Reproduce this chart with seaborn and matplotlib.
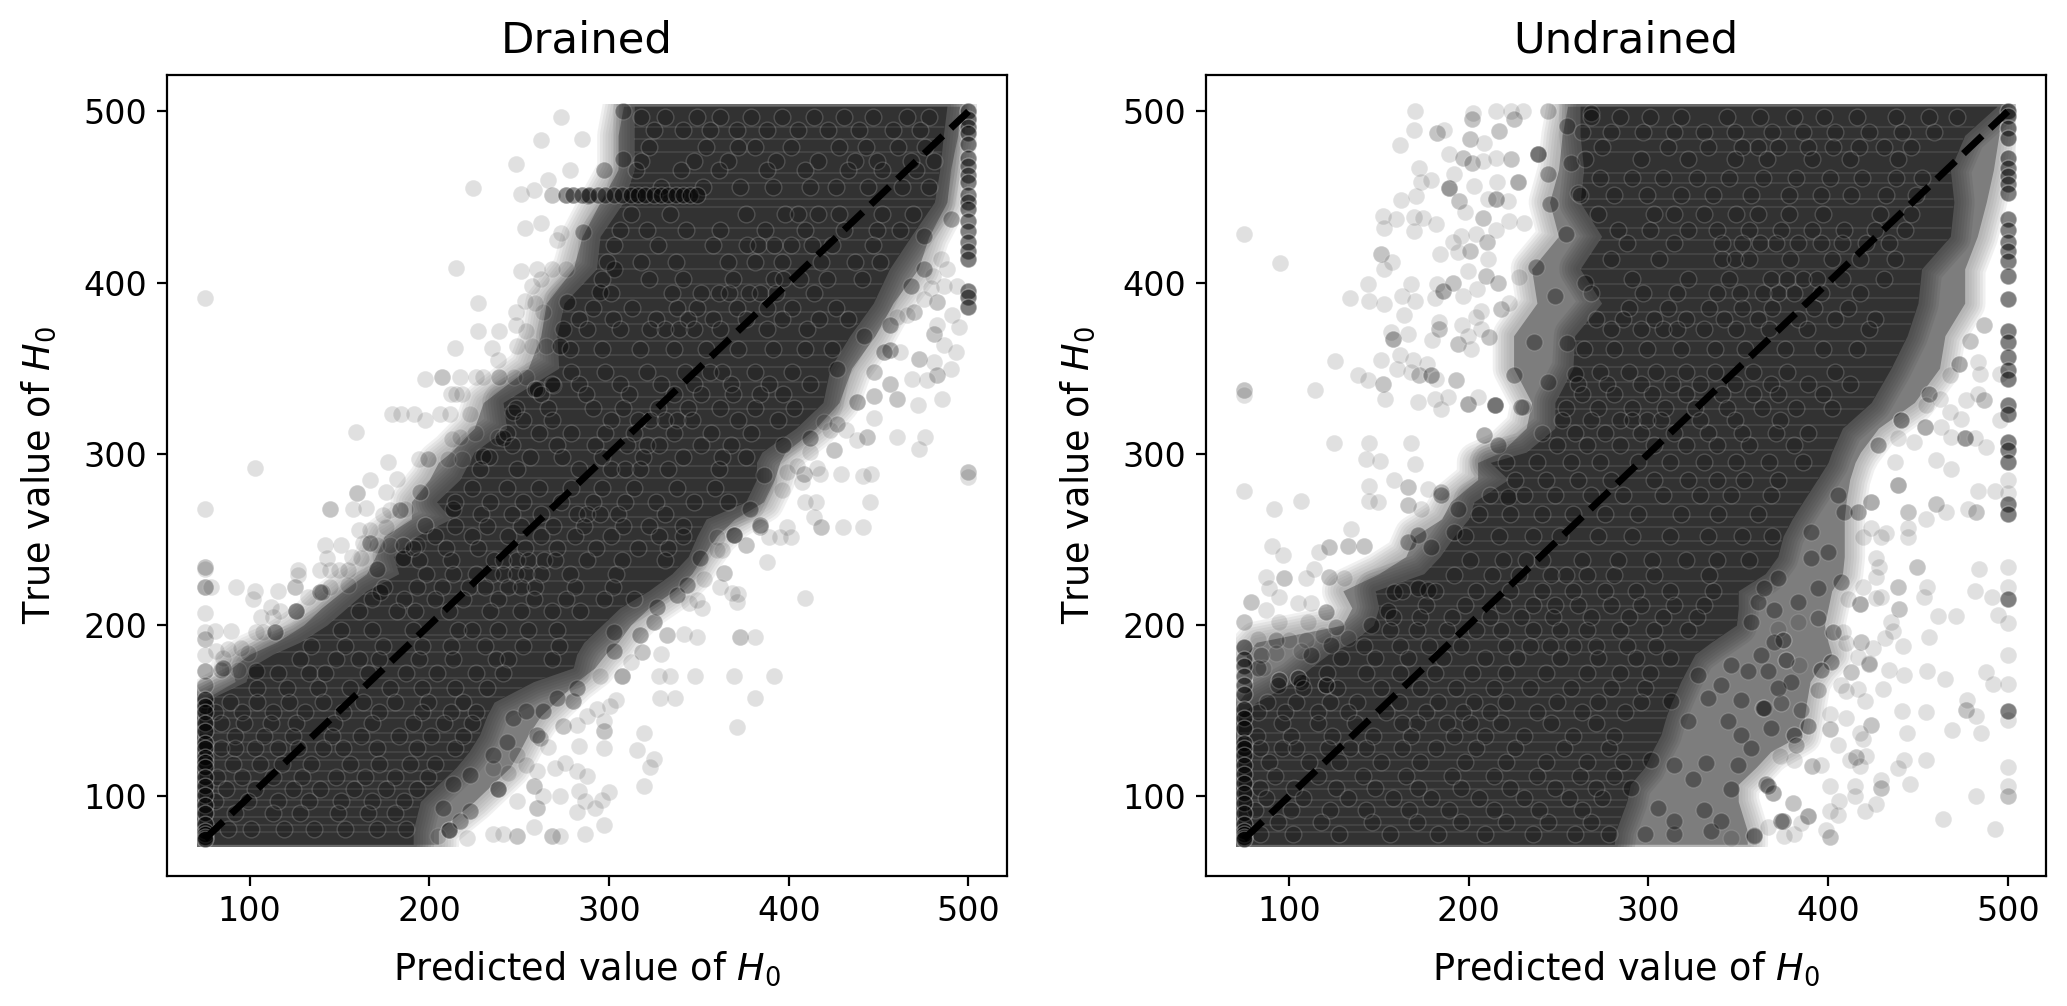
"""
Predicted vs true H0 for drained and undrained cases.
Values read off the published figure: sparse points one by one, the saturated
cloud as an envelope per H0 level with a sample of its visible points on top.
"""

import pandas as pd
import matplotlib
matplotlib.use("Agg")
import matplotlib.pyplot as plt
from matplotlib.patches import Rectangle
import seaborn as sns

# === cloud envelopes ===
levels = [72, 80, 97, 107, 117, 126, 136, 147, 155, 167, 175, 183, 190, 200, 210, 220, 230, 240,
          252, 262, 272, 285, 295, 301, 315, 330, 350, 369, 388, 408, 427, 447, 466, 486, 503]

drained_core_left = [72, 72, 72, 72, 72, 72, 72, 72, 74, 98, 100, 113, 128, 143, 154, 165, 183, 180,
                     193, 212, 204, 217, 222, 225, 243, 241, 272, 271, 275, 293, 295, 308, 314, 314, 314]
drained_core_right = [191, 191, 195, 205, 215, 222, 228, 232, 236, 258, 280, 282, 286, 296, 306, 322, 335, 344,
                      349, 354, 376, 382, 382, 385, 404, 419, 423, 434, 447, 456, 468, 481, 484, 486, 488]
drained_mid_left = [72, 72, 72, 72, 72, 72, 72, 72, 72, 92, 90, 100, 115, 130, 140, 152, 165, 170,
                    175, 190, 190, 200, 205, 212, 225, 230, 255, 262, 265, 280, 285, 295, 305, 305, 308]
drained_mid_right = [205, 205, 225, 235, 245, 250, 255, 262, 270, 282, 292, 298, 305, 312, 322, 336, 346, 352,
                     360, 370, 386, 392, 395, 398, 415, 428, 435, 448, 458, 472, 478, 488, 490, 494, 495]

undrained_core_left = [72, 72, 72, 72, 72, 72, 72, 72, 82, 103, 112, 122, 135, 147, 150, 148, 175, 184,
                       192, 200, 203, 222, 212, 232, 248, 248, 258, 259, 274, 262, 274, 262, 264, 262, 262]
undrained_core_right = [281, 282, 288, 290, 298, 302, 307, 310, 313, 318, 322, 326, 335, 349, 350, 350, 365, 372,
                        375, 380, 386, 394, 400, 402, 408, 424, 435, 444, 450, 452, 468, 470, 468, 476, 494]
undrained_mid_left = [72, 72, 72, 72, 72, 72, 72, 72, 72, 80, 78, 76, 82, 130, 135, 130, 150, 165,
                      170, 185, 190, 205, 205, 218, 232, 235, 225, 225, 238, 235, 250, 245, 250, 252, 255]
undrained_mid_right = [355, 355, 350, 350, 360, 368, 385, 387, 388, 390, 395, 402, 400, 398, 400, 402, 408, 409,
                       409, 409, 410, 412, 415, 418, 428, 448, 462, 465, 476, 476, 483, 488, 492, 495, 496]

# H0 levels that show as thin light streaks through the cloud
strata_levels = [79, 83, 88, 94, 98, 104, 109, 115, 121, 126, 132, 137, 146, 150, 158, 163, 169, 176, 184, 191, 194,
                 203, 211, 218, 226, 234, 243, 249, 257, 263, 271, 278, 286, 293, 302, 309, 317, 326, 333, 342, 351,
                 358, 366, 376, 383, 391, 399, 408, 417, 425, 432, 444, 449, 458, 464, 476, 484, 491]

# === sparse points (predicted, true) ===
drained_points = [
    (75, 391), (273, 497), (262, 483), (248, 469), (224.5, 455), (251, 452), (258, 454), (266, 460),
    (268, 451), (268, 451), (278, 466), (285, 484), (253, 432), (262, 435), (271, 425), (273, 429),
    (215, 408.5), (251, 407), (260, 408), (268, 408), (276, 408), (262, 402), (257, 398), (227, 388),
    (253, 389.5), (248, 383), (263, 383), (259, 388), (227, 372), (239, 372), (248, 375), (254, 372),
    (214, 362), (235, 362), (248.6, 362.7), (257, 362.7), (265, 363), (238, 355), (197.5, 344), (207, 345),
    (207, 345), (217, 345), (226, 345), (230, 345), (239, 345), (239, 345), (247, 345), (254, 345),
    (259, 338), (259, 338), (212, 335), (218, 335), (215, 335), (179, 323.5), (184.5, 323.5), (191.5, 323.5),
    (197.5, 319.5), (206, 323.5), (211.5, 323.5), (222.6, 323.5), (159, 313), (103, 292), (177, 295), (194, 297),
    (199.4, 297), (199.4, 297), (210.5, 297), (218, 297), (212.4, 308.5), (217, 310), (225.4, 312), (238, 310),
    (75, 267.7), (144.6, 268), (144.6, 268), (157.6, 268), (165, 268.5), (167, 285), (159.5, 277), (159.5, 277),
    (176, 278), (182, 285.5), (194.7, 278), (194.7, 278), (178, 267), (186.4, 267.7), (174, 264), (161, 255.5),
    (167, 255.5), (176, 257), (197.5, 258.4), (197.5, 258.4), (142, 246.7), (151, 247), (163, 247.7), (170.6, 247),
    (178, 247), (185.5, 247), (185.5, 247), (193, 247), (143.3, 239.3), (156.7, 240), (162, 239), (127, 232),
    (139.4, 232), (144.6, 232), (150, 232), (155, 232), (75, 234), (75, 234), (75, 233), (75, 222), (75, 222),
    (75, 222), (78.7, 222), (92.6, 222), (103, 220), (102, 215.3), (116, 220), (125, 222), (125, 222), (127, 229),
    (132.5, 216.6), (140, 219.5), (140, 219.5), (144.6, 222.4), (154.8, 223.4), (75, 207), (75, 196), (75, 192),
    (75, 192), (80.5, 196.6), (89.5, 196.6), (103.8, 196), (107.5, 196), (113, 205), (114, 196), (126, 208),
    (126, 208), (116.8, 208), (112, 210.8), (81.5, 185), (88, 186), (95.4, 186.5), (99, 183.6), (106.5, 205),
    (75, 182.6), (75, 173), (75, 173), (75, 173), (75, 165), (75, 165), (84, 174), (84, 174), (93.5, 174), (85, 180.7),
    (283.5, 129.2), (270, 116.6), (275.5, 119.5), (282, 114.6), (287.6, 111.7), (272.7, 100), (283, 103), (286.7, 97),
    (282, 91), (268, 76.7), (268, 76.7), (272.7, 76.7), (286.7, 78), (258, 82), (248.6, 76.7), (248.6, 76.7),
    (235.6, 77.7), (241, 77.7), (220.7, 75.8), (211, 80.6), (211, 80.6), (211, 80.6), (205, 76.7), (260, 93.3),
    (260, 93.3), (258, 106), (258, 106), (263.5, 100), (248.6, 97), (238.4, 104), (238.4, 104), (261.6, 134),
    (261.6, 134), (266.2, 129), (274.6, 140.8), (274.6, 140.8), (282, 141.8), (287.6, 146.7), (260, 114.6),
    (254, 118.5), (244, 113.7), (248.6, 124.3), (235.6, 116.6),
    (409, 216), (388, 236.6), (364, 230.6), (364, 230.6), (361.5, 222.4), (371, 213.7), (372, 218), (368.4, 219),
    (352.6, 226.7), (351.7, 209.8), (344.3, 212.7), (349, 214.7), (341.5, 195), (349, 193.3), (373, 193.3), (373, 193.3),
    (381, 193.3), (332, 194.3), (332, 194.3), (329, 183), (318.3, 184), (318.3, 184), (312, 178.3), (328, 170),
    (333.7, 170), (348, 170), (369.7, 170), (391.6, 170), (307, 170), (307, 170), (307, 170), (295, 170), (328.5, 157.4),
    (336.5, 157.4), (381, 157.4), (304, 156.4), (300.6, 153), (293.2, 151), (371.2, 140.3), (319.6, 137), (297, 138),
    (297, 138), (297, 143.8), (315.5, 127), (297, 128.2), (325, 122), (323, 117), (319.6, 106.3), (299.7, 102.6),
    (296, 98), (292.3, 93), (297.3, 83), (445, 272), (441.4, 287), (446, 288.5), (415, 271.6), (409.3, 272), (414, 263),
    (418, 257.4), (418, 257.4), (430, 257.4), (441.4, 257.4), (399, 257.4), (401, 251.6), (395, 251.6), (389, 251.6),
    (384, 257.4), (384, 257.4), (376.4, 246.7), (376.4, 246.7), (369.7, 252.5), (369.7, 252.5), (369.7, 252.5),
    (360, 251.6), (363, 243.8), (360, 243.8), (399, 289.5), (408.4, 288.5), (408.4, 288.5), (417.6, 288.5), (428.8, 288.5),
    (396.3, 278.8), (407.4, 283.6), (500, 286.5), (500, 289.5), (500, 289.5),
    (480, 404), (484.5, 413.8), (488, 408), (493.8, 398), (486.3, 398), (479, 397), (482.6, 388.5), (482.6, 388.5),
    (475.2, 390.5), (469.6, 382.7), (469.6, 382.7), (491, 380.8), (494.7, 374.3), (480.8, 370), (480.8, 370), (482.6, 375),
    (466, 380.8), (460.4, 379.8), (456.6, 360.4), (456.6, 360.4), (456.6, 360.4), (462, 359.4), (472.4, 355.5),
    (472.4, 355.5), (486.3, 363.3), (492.8, 359.4), (480.8, 353.6), (490, 349.7), (482.6, 345.8), (482.6, 345.8),
    (477, 342.9), (468.7, 343.9), (456.6, 341), (456.6, 341), (460.4, 332.2), (460.4, 332.2), (447.3, 334), (447.3, 334),
    (447.3, 347.7), (447.3, 347.7), (472, 328.7), (485.4, 331.8), (447.3, 321), (443.6, 310), (443.6, 310), (460.4, 310),
    (475.8, 310), (472.4, 303), (438, 308), (431.6, 313.7), (423, 313.7), (427, 317.6), (427, 317.6), (419.5, 318.6),
    (425, 302), (425, 302), (412, 301), (404.6, 293), (415.8, 292),
]

undrained_points = [
    (75, 428.3), (95, 411.4), (75, 337), (75, 337), (75, 334.5), (114.5, 337.4), (125.7, 354), (124.8, 306.4),
    (144.4, 306.4), (143, 297), (150.7, 295.7), (168, 306.4), (170, 294.3), (138.7, 345.8), (144.2, 342.9),
    (152.2, 341), (152.2, 341), (153.5, 332), (151, 355), (160, 349.7), (162, 358), (169, 354.9), (168, 347.7),
    (172.6, 345.8), (172.6, 345.8), (177, 352.6), (179, 345.8), (179, 345.8), (179, 345.8), (182, 344), (193, 342.9),
    (193, 342.9), (172, 330), (181, 332), (188.4, 333), (184.7, 326.4), (199.5, 329.3), (199.5, 329.3), (199.5, 329.3),
    (205, 333), (214.4, 328.3), (214.4, 328.3), (214.4, 328.3), (230, 327.3), (230, 327.3),
    (134, 391), (144.2, 399.2), (144.8, 389), (153, 387.5), (163, 392.4), (168, 399.2), (170.4, 389.5), (164.3, 381),
    (181.5, 391), (182.5, 399), (186, 395), (186, 395), (186, 395), (191.5, 400), (191.5, 400), (196.7, 392.4),
    (204.7, 396), (156.8, 371), (157.8, 366.8), (157.8, 366.8), (157.8, 366.8), (166, 370), (179.5, 366.6), (183.4, 373),
    (183.4, 373), (183.4, 376.9), (196.4, 375.5), (194, 364.2), (194, 364.2), (201.4, 361.3), (199.5, 369), (206.6, 383.7),
    (204, 379.8), (206.9, 373), (211.6, 368), (211.6, 368), (218, 384.6), (218, 384.6), (222.7, 388),
    (162.4, 448.4), (170.8, 450.7), (172.6, 467), (173.6, 458.5), (179, 459.8), (189.3, 455.5), (189.3, 455.5),
    (189.3, 455.5), (189.3, 455.5), (194.9, 447.8), (194.9, 447.8), (203.2, 456.5), (197.7, 441), (191.7, 463.3),
    (162, 480.4), (169.5, 489), (170.2, 500), (182.5, 487.6), (182.5, 487.6), (186.5, 489), (189, 475), (196.7, 473),
    (196.7, 473), (202, 470), (202, 470), (207.9, 471), (202.3, 499), (201.8, 495.4), (201.8, 495.4), (201, 484), (201, 484),
    (208.8, 481.8), (215.3, 500), (223.6, 500), (230, 500), (244.4, 500), (244.4, 500), (225.5, 495.4), (225.5, 495.4),
    (217, 488.6), (217, 488.6), (215, 473), (223.6, 472), (223.6, 472), (238.5, 475), (238.5, 475), (238.5, 475),
    (152.6, 439), (159.3, 437), (153, 432), (169.8, 438.4), (174.5, 438), (181.9, 434), (169.8, 430.3), (196, 427.4),
    (204, 428.3), (191.5, 423.5), (210.3, 424), (210.3, 424), (183.8, 417), (194, 418), (200.5, 418.6), (200.5, 418.6),
    (210.7, 413.8), (151.3, 417), (151.3, 417), (157.2, 411.8), (152.8, 408), (199.5, 407), (209.7, 404), (209.7, 404),
    (216.2, 400), (216.2, 400), (228, 403), (208, 438), (208, 438), (215.3, 448.7), (215.3, 448.7), (215.3, 448.7),
    (222.7, 436), (231, 435), (215.3, 431), (221.8, 447.8), (227.4, 458.5), (227.4, 458.5), (227.4, 458.5), (216, 458.5),
    (210.6, 448.7),
    (75, 278.4), (91.9, 267.7), (106.8, 272.6), (144.4, 281.3), (144.4, 272.6), (149.4, 272), (90.6, 246.3), (96.6, 241),
    (117, 242.8), (122.5, 245.7), (122.5, 245.7), (132.7, 246.3), (132.7, 246.3), (134.6, 256), (142, 246.3), (142, 246.3),
    (114, 233), (87.3, 228.3), (97.5, 227.3), (97.5, 227.3), (109.5, 227.7), (122.5, 228.3), (122.5, 228.3), (130.9, 227.3),
    (78.9, 213.7), (78.9, 213.7), (89.1, 221.5), (94.7, 216.6), (87.3, 208.8), (104.9, 212.7), (112.3, 212.7), (120.7, 207.9),
    (120.7, 207.9), (120.7, 207.9), (94.7, 202), (110.5, 201.6), (126.2, 199), (126.2, 199), (75, 202), (75, 202), (82.6, 192),
    (92.8, 191.4), (92.8, 191.4), (100.3, 191.4), (109.5, 191.4), (118.8, 194.3), (132.7, 192.3), (84.5, 182.6), (84.5, 182.6),
    (92.8, 183.6), (106.8, 184.6), (85.4, 174.8), (94.7, 168), (94.7, 168), (94.7, 168), (104.9, 169), (104.9, 169), (104.9, 169),
    (120.7, 165), (120.7, 165), (120.7, 165), (158.7, 284.6), (166, 280.7), (166, 280.7), (166, 270), (166, 270), (173.6, 268),
    (177.3, 279.7), (184.7, 277.8), (184.7, 277.8),
    (487, 375), (487, 375), (478.7, 366), (478.7, 366), (473, 352.6), (473, 352.6), (473, 352.6), (483.4, 353.6), (484.3, 346.8),
    (495.4, 346.8), (467.6, 345.8), (487, 331.2), (487, 331.2), (476.9, 331.2), (474, 320.5), (483.4, 335), (467.6, 324.4),
    (463, 315.7), (476, 309), (476, 309), (476, 309), (476, 309), (488, 304), (495.4, 319.6), (481.5, 309), (468.5, 310),
    (456.4, 335), (456.4, 335), (456.4, 335), (462, 332), (454.6, 328.3), (453.7, 315.7), (453.7, 315.7), (453.7, 315.7),
    (448, 307), (440.7, 319.6), (440.7, 319.6), (440.7, 319.6), (440.7, 319.6), (438.8, 309), (427.7, 305), (427.7, 305),
    (427.7, 305), (460, 296.3), (468.5, 291.4), (437, 295),
    (492.6, 81), (464.2, 87), (482.4, 100), (454.6, 121.4), (442.5, 121.4), (438.8, 116.6), (445.3, 107.3), (454.6, 149.2),
    (441, 150), (444, 137), (468.9, 138.5), (485.2, 137), (476.9, 150.6), (476.9, 150.6), (482.4, 146.7), (477.4, 156),
    (488, 172.5), (491.7, 165.5), (464.8, 168.6), (455.1, 172.9), (442.5, 171), (433.8, 173.9), (455.9, 193.3), (461, 205.3),
    (470.9, 205.3), (494.5, 206), (441.6, 188), (453.3, 216.2), (455.1, 222), (481.5, 220), (491.1, 216.2), (483.7, 232.5),
    (449.4, 234), (449.4, 234), (439.4, 209.4), (439.4, 209.4), (435.1, 201.6), (436, 196.8), (431.4, 192.3), (425, 186.5),
    (423, 177.8), (430.5, 162.8), (420.3, 155.4), (423.6, 141.8), (423.6, 141.8), (410, 145.7), (400.8, 148), (400.8, 139.5),
    (400.8, 139.5), (405.4, 129.8), (419.7, 133.7), (417.5, 137), (421.2, 123.4), (415.6, 122.8), (415.6, 122.8), (412, 121.4),
    (417.5, 117.5), (396, 118.5), (391.1, 117.5), (391.1, 117.5), (381.3, 121.4), (429.5, 109.8), (429.5, 105), (429.5, 105),
    (414.7, 105.9), (414.7, 100), (401.3, 106), (406, 97), (426.8, 95.6), (420.3, 91.3), (405.4, 89), (400.8, 91.3),
    (388.7, 88.4), (388.7, 88.4), (388.7, 88.4), (399, 80.6), (401.3, 76.4), (401.3, 76.4), (381.3, 77.7), (374.8, 85.5),
    (374.8, 85.5), (374.8, 85.5), (385, 84.5), (366.5, 82), (359, 77.3), (359, 77.3), (375.7, 76.7), (346, 75.8),
    (477.8, 268), (482.4, 266), (482.4, 266), (454.6, 262), (465.7, 266), (460.2, 271), (460.2, 271), (483.4, 278.2),
    (492.6, 278.2), (444.4, 251.6), (444.4, 266), (444.4, 266), (444.4, 256.8), (432.3, 253.5), (429.5, 251.6), (424, 256.8),
    (419.3, 251.6), (426.8, 228.3), (428.6, 234), (426.8, 239.3), (419.3, 222.4), (429.5, 216.6), (426.8, 215.6), (417.5, 212.2),
    (417.5, 212.2), (417.5, 212.2), (411, 215.2), (438.8, 222.4), (438.8, 222.4), (418.4, 190.4), (418.4, 190.4), (410, 189.4),
    (416.6, 181.6), (422.5, 177.2), (422.5, 177.2), (412.8, 172.5), (412.8, 172.5), (407.3, 165), (416.6, 162.8), (410, 161.6),
    (401.7, 178.3), (401.7, 178.3), (401.7, 178.3), (396.1, 173.9), (396.1, 173.9), (396.1, 173.9), (394.3, 162.2), (394.3, 162.2),
    (402.6, 196.2), (402.6, 196.2), (402.6, 196.2), (408.2, 196), (388.7, 140.8), (388.7, 140.8), (388.7, 140.8), (381.3, 136),
    (381.3, 136), (381.3, 136), (382.2, 130), (382.2, 130), (373, 123.4), (372, 198), (374.8, 191.4), (374.8, 191.4), (374.8, 191.4),
    (383.2, 202), (394.3, 204), (394.3, 204), (376.7, 179.7), (376.7, 179.7), (376.7, 179.7), (384, 176.8), (363.7, 151.6),
    (363.7, 151.6), (363.7, 151.6), (373.9, 154.4), (373.9, 154.4), (385, 150.6), (385, 150.6), (365.5, 107), (365.5, 107),
    (365.5, 107), (369.3, 102), (369.3, 102), (369.3, 102), (380.4, 96.2), (380.4, 96.2),
    (500, 117), (500, 106), (500, 100), (500, 100), (500, 144.7), (500, 165.5), (500, 182.6), (500, 201), (500, 222.4),
    (500, 234), (500, 284.6), (500, 277),
]

# darker clumps of overlapping points along the cloud's edges
drained_clumps = [
    (211, 80.6), (222.6, 91.3), (207.8, 93.3), (217, 85.5), (238.4, 104), (222.6, 112.7), (213.3, 107), (235.6, 124.3),
    (243, 132), (259.7, 136), (280, 155.4), (270.9, 157.4), (263.5, 149.6), (282, 163), (246.8, 145.7), (254, 149.6),
    (302.5, 196.2), (317.4, 194.3), (324.8, 202), (326.6, 210.8), (302.5, 184.6), (337.8, 217.6), (343.4, 223.4),
    (350.8, 239), (369.4, 252.5), (384.2, 258.4), (378.6, 268), (386, 287.5), (475.2, 408), (453, 359.4), (456.6, 375),
    (438, 330), (427, 349.7), (441.8, 369), (467.8, 398), (475.2, 427.4), (490, 437), (412, 309), (397, 305),
    (276.5, 388.5), (274.6, 373), (272.7, 363), (259.7, 338), (269, 340), (246.7, 324.4), (241, 309), (230, 299),
    (285.7, 429.3), (288.5, 450.7), (308, 500), (308, 472), (297, 466), (302.5, 408), (295, 394.4), (166.9, 247.7),
    (185.5, 239), (170.6, 233), (172.5, 219.5), (139, 219.5), (126, 208), (114, 196), (103.8, 173), (85, 175),
    (213.3, 268), (183.6, 267),
]

undrained_clumps = [
    (298, 78), (314.5, 78), (335, 79.7), (314.5, 85.5), (331, 92), (346, 104), (314.5, 118.5), (332, 119.5), (350, 118.5),
    (324.7, 110), (301.5, 121.4), (322, 143.8), (344.2, 143.8), (312.7, 155.4), (333, 157.4), (351.6, 156.4), (364.6, 151.6),
    (340.5, 165), (355.3, 172.9), (366.5, 172.9), (346, 176.8), (327.5, 171), (379.5, 167), (372, 163), (357, 202),
    (370, 190.4), (362.8, 182.6), (351.6, 136), (368.4, 140), (357.2, 128.2), (366.5, 106), (373.9, 85.5), (359, 77),
    (340.5, 85.5), (305.2, 93.3), (290.4, 105), (360.9, 213.7), (370, 208.9), (364.6, 221.5), (372, 227.3), (394.3, 221.5),
    (407.3, 225.4), (383, 213.7), (390.6, 239), (399.9, 242.8), (409, 266), (416.6, 266), (390.6, 254.5), (405.4, 275.9),
    (424, 272), (438.8, 281.7), (238.5, 475), (244, 463.3), (245, 445.8), (254.3, 428.3), (237.6, 409), (247.8, 392.4),
    (236.6, 365.2), (258.9, 346.8), (229.2, 327.3), (214.4, 328.3), (216.2, 305), (208.8, 310.8), (225.5, 345.8),
    (244, 342), (255, 365), (264.5, 400), (257, 470), (255, 491.5), (268, 499), (260.7, 452.6), (155, 208), (166, 248.6),
    (171.7, 252.5), (179, 245.7), (192, 254.5), (158.7, 219.5), (93.8, 165), (106.8, 167), (82.6, 174.8), (112.3, 182.6),
    (123.5, 188.4), (145.7, 200), (171.7, 221.5), (177.3, 220.5), (184.7, 275.9), (194, 268), (221.8, 275),
]

# === points stacked on the two clipped edges ===
drained_edge_low = [157, 153, 149, 143, 138, 131, 128, 123, 120, 117, 111, 106, 101, 95, 90, 84, 80, 78, 76, 75]
drained_edge_high = [500, 495.4, 491, 487.6, 481, 473, 468, 463, 458.5, 451, 447, 443, 436, 430, 424, 418.6, 413.8, 395, 391.4, 385.6]
undrained_edge_low = [187, 180, 176, 170, 165, 160, 151, 146, 140, 131, 128, 124, 118, 113, 108, 102, 96, 90, 84, 80, 78, 76, 75]
undrained_edge_high = [500, 497.3, 490.5, 484.7, 473, 467, 462.3, 457.5, 452.6, 437, 431, 424, 418.6, 412.8, 404, 390.5,
                       372, 365.2, 356.5, 348.7, 343.9, 328.3, 323.5, 307, 302, 295, 271, 265, 215, 150]

# horizontal streak in the drained panel at H0 = 451
streak_true = 451
streak_pred = [276, 280, 285, 289, 294, 298, 303, 307, 312, 316, 320, 325, 329, 333, 337, 341, 345, 349]

# === visible points inside the saturated cloud: (true, predicted values) ===
drained_rows = [
    (497, [318, 331, 349, 362, 379, 396, 414, 431, 447, 466, 478]),
    (489, [325, 341, 356, 371, 388, 405, 422, 439, 458, 473]),
    (479, [322, 354, 372, 381, 401, 428, 443, 461, 476]),
    (471, [318, 347, 366, 393, 416, 437, 449, 468, 481]),
    (466, [315, 340, 361, 388, 409, 433, 452, 471]),
    (456, [329, 352, 373, 391, 412, 426, 444, 463, 478]),
    (440, [312, 334, 376, 398, 405, 416, 428, 452, 469]),
    (431, [306, 321, 343, 362, 387, 409, 431, 449, 462]),
    (422, [303, 327, 358, 377, 383, 392, 401, 413, 424, 447]),
    (412, [299, 318, 337, 366, 381, 396, 418, 437, 451]),
    (402, [296, 322, 341, 369, 392, 397, 406, 421, 441]),
    (394, [301, 335, 351, 361, 367, 378, 384, 393, 414]),
    (385, [291, 313, 338, 349, 371, 388, 402, 426]),
    (379, [283, 302, 326, 344, 358, 376, 396, 417, 433]),
    (373, [288, 306, 323, 331, 339, 347, 362, 388, 410]),
    (361, [278, 296, 317, 336, 354, 372, 391, 409, 424]),
    (348, [279, 298, 321, 342, 356, 363, 381, 402]),
    (341, [268, 283, 306, 329, 347, 368, 389, 412]),
    (335, [262, 287, 311, 336, 351, 369, 384, 397]),
    (327, [248, 266, 291, 308, 327, 344, 362, 381, 403]),
    (320, [252, 268, 301, 316, 323, 331, 338, 346, 372, 394]),
    (312, [243, 261, 279, 298, 314, 336, 357, 379]),
    (305, [246, 271, 292, 310, 321, 328, 351, 368]),
    (298, [233, 256, 274, 296, 319, 341, 363, 376]),
    (291, [228, 249, 283, 301, 309, 317, 333, 361]),
    (280, [224, 243, 261, 279, 296, 314, 338, 359]),
    (272, [214, 234, 252, 273, 291, 309, 326, 347, 366]),
    (265, [229, 246, 262, 282, 288, 295, 305, 331]),
    (258, [214, 232, 251, 269, 286, 308, 322, 341]),
    (252, [203, 224, 244, 262, 281, 301, 328, 341]),
    (245, [191, 209, 227, 253, 271, 293, 316, 333]),
    (238, [194, 212, 236, 241, 249, 255, 264, 270, 288, 307, 331]),
    (230, [198, 213, 226, 235, 241, 248, 254, 262, 278, 304]),
    (222, [175, 193, 207, 222, 231, 244, 251, 259, 281, 302]),
    (215, [168, 186, 203, 219, 238, 258, 276, 297, 314]),
    (208, [161, 182, 192, 211, 234, 251, 268, 284]),
    (197, [151, 168, 191, 216, 224, 238, 255, 271]),
    (188, [134, 153, 174, 196, 212, 231, 252, 272]),
    (180, [128, 148, 161, 172, 194, 213, 237, 244, 268]),
    (172, [116, 133, 142, 166, 187, 204, 226, 241]),
    (163, [104, 121, 138, 156, 178, 196, 214, 232]),
    (155, [89, 104, 122, 141, 163, 181, 199, 219]),
    (149, [81, 96, 113, 131, 152, 172, 196, 212, 226]),
    (143, [84, 97, 112, 126, 147, 168, 191, 208, 224]),
    (135, [92, 108, 124, 146, 162, 183, 201, 219]),
    (128, [84, 92, 103, 116, 127, 141, 152, 171, 193, 214]),
    (119, [91, 106, 118, 134, 156, 172, 189, 203]),
    (111, [82, 96, 113, 129, 148, 164, 181, 199]),
    (104, [87, 103, 124, 139, 158, 176, 193]),
    (97, [81, 99, 116, 133, 151, 168, 186]),
    (90, [92, 113, 128, 149, 166, 181]),
    (81, [88, 101, 119, 136, 153, 171, 187]),
]

undrained_rows = [
    (497, [268, 284, 301, 318, 344, 362, 381, 398, 416, 438, 456, 472]),
    (488, [263, 279, 297, 314, 331, 348, 369, 386, 404, 423, 441, 459]),
    (479, [274, 311, 333, 352, 361, 372, 389, 403, 417, 431, 446]),
    (472, [265, 296, 322, 348, 366, 391, 412, 439]),
    (461, [273, 291, 308, 327, 345, 364, 382, 401, 419, 438, 452]),
    (451, [262, 281, 299, 318, 336, 357, 378, 396, 413, 432, 449]),
    (440, [272, 303, 314, 331, 349, 361, 378, 397, 429, 446]),
    (431, [283, 301, 322, 338, 356, 374, 391, 409, 426, 443]),
    (423, [288, 314, 341, 352, 362, 371, 383, 396, 408, 421, 434]),
    (414, [279, 306, 341, 348, 356, 379, 402, 418, 437]),
    (402, [291, 322, 345, 368, 377, 386, 394, 408, 431]),
    (394, [268, 297, 316, 338, 351, 364, 372, 381, 396, 418]),
    (385, [289, 311, 334, 352, 369, 392, 411]),
    (379, [271, 286, 303, 321, 342, 361, 383, 404, 426]),
    (373, [279, 296, 308, 316, 331, 349, 367, 388, 423]),
    (361, [264, 281, 299, 318, 337, 354, 376, 397, 416]),
    (348, [273, 289, 304, 321, 337, 358, 377, 404]),
    (341, [261, 277, 296, 313, 329, 348, 368, 389, 412]),
    (335, [263, 281, 302, 321, 341, 358, 372, 397]),
    (327, [254, 272, 291, 309, 326, 344, 363, 382, 402]),
    (320, [252, 268, 284, 291, 299, 307, 329, 348, 373]),
    (312, [241, 259, 276, 296, 314, 333, 352, 371, 389]),
    (305, [249, 266, 284, 303, 321, 338, 356, 381]),
    (295, [221, 238, 257, 273, 294, 312, 331, 349, 367, 386]),
    (285, [226, 243, 261, 279, 303, 322, 338, 353, 372]),
    (276, [212, 231, 248, 268, 286, 308, 329, 346, 368]),
    (265, [206, 223, 241, 258, 276, 294, 318, 339, 361]),
    (252, [198, 217, 236, 251, 272, 291, 312, 333, 352, 369]),
    (238, [201, 219, 232, 241, 263, 283, 302, 321, 338, 356]),
    (229, [192, 213, 228, 246, 254, 266, 281, 303, 334]),
    (220, [163, 181, 204, 223, 241, 258, 276, 293, 312, 336]),
    (212, [176, 198, 219, 236, 248, 261, 279, 296, 314, 331]),
    (205, [158, 173, 191, 212, 229, 247, 268, 289, 308, 327]),
    (197, [156, 171, 188, 204, 218, 236, 251, 266, 284, 303, 322]),
    (188, [142, 162, 178, 196, 221, 234, 245, 258, 271, 288, 304]),
    (181, [129, 148, 166, 186, 209, 227, 251, 272, 293, 312]),
    (172, [121, 143, 162, 181, 202, 221, 243, 266, 284, 301]),
    (163, [108, 127, 151, 173, 193, 214, 234, 257, 279, 298]),
    (155, [88, 104, 123, 138, 161, 183, 203, 221, 249, 272, 296]),
    (149, [83, 98, 116, 133, 154, 176, 197, 212, 238, 263, 287]),
    (143, [96, 116, 137, 163, 171, 188, 201, 218, 246, 271]),
    (135, [82, 101, 124, 147, 168, 192, 209, 231, 258, 281]),
    (128, [84, 96, 104, 122, 134, 143, 163, 182, 204, 226, 253, 278]),
    (120, [89, 111, 128, 151, 173, 198, 221, 243, 266, 286]),
    (112, [92, 116, 141, 165, 191, 214, 238, 262, 281]),
    (105, [84, 103, 126, 148, 172, 196, 223, 248, 271]),
    (99, [87, 108, 133, 158, 179, 206, 231, 256, 274]),
    (92, [81, 101, 123, 143, 167, 189, 214, 239, 263]),
    (85, [94, 118, 146, 171, 196, 221, 244, 268]),
    (78, [84, 102, 128, 156, 183, 209, 236, 259, 278]),
]

line_ends = [75, 500]
tick_values = [100, 200, 300, 400, 500]


def rows_to_frame(rows):
    records = [(pred, true) for true, preds in rows for pred in preds]
    return pd.DataFrame(records, columns=["pred", "true"])


def soft_band(ax, left, right, color, z):
    # same polygon with wide faint edges so the cloud fades out instead of stopping dead
    clip = Rectangle((70.5, 70.5), 434, 434, transform=ax.transData)
    for lw in [15, 13, 11, 9, 7, 5, 3]:
        edge = ax.fill_betweenx(levels, left, right, facecolor="none", edgecolor=color, alpha=0.11, linewidth=lw, zorder=z)
        edge.set_clip_path(clip)
    band = ax.fill_betweenx(levels, left, right, color=color, lw=0, zorder=z + 0.01)
    band.set_clip_path(clip)
    return band


def draw_panel(ax, title, points, clumps, edge_low, edge_high, rows, mid_left, mid_right, core_left, core_right):
    soft_band(ax, mid_left, mid_right, "#7d7d7d", 1)
    core = soft_band(ax, core_left, core_right, "#323232", 1.1)

    streaks = ax.hlines(strata_levels, 60, 515, color="w", alpha=0.1, linewidth=0.6, zorder=1.5)
    streaks.set_clip_path(core.get_paths()[0], core.get_transform())

    df = pd.DataFrame(points, columns=["pred", "true"])
    sns.scatterplot(data=df, x="pred", y="true", color="k", alpha=0.12, s=36, zorder=2, ax=ax)

    clump_df = pd.DataFrame(clumps, columns=["pred", "true"])
    sns.scatterplot(data=clump_df, x="pred", y="true", color=(0, 0, 0, 0.32), edgecolor=(1, 1, 1, 0.15),
                    linewidth=0.5, s=36, zorder=2, ax=ax)

    ring_df = rows_to_frame(rows)
    sns.scatterplot(data=ring_df, x="pred", y="true", color=(0, 0, 0, 0.16), edgecolor=(1, 1, 1, 0.17),
                    linewidth=0.5, s=36, zorder=3, ax=ax)

    low = pd.DataFrame({"pred": [75] * len(edge_low), "true": edge_low})
    high = pd.DataFrame({"pred": [500] * len(edge_high), "true": edge_high})
    for edge in (low, high):
        sns.scatterplot(data=edge, x="pred", y="true", color=(0, 0, 0, 0.5), edgecolor=(1, 1, 1, 0.3),
                        linewidth=0.5, s=36, zorder=3, ax=ax)

    sns.lineplot(x=line_ends, y=line_ends, color="k", linestyle="--", linewidth=2.5, zorder=5, ax=ax)

    ax.set_xlim(53.75, 521.25)
    ax.set_ylim(53.75, 521.25)
    ax.set_xticks(tick_values)
    ax.set_yticks(tick_values)
    ax.tick_params(labelsize=12)
    ax.set_xlabel(r"Predicted value of $H_0$", fontsize=13.2, labelpad=7.8)
    ax.set_ylabel(r"True value of $H_0$", fontsize=13.2, labelpad=9.2)
    ax.set_title(title, fontsize=15.6, pad=8)


fig, (ax1, ax2) = plt.subplots(1, 2, figsize=(10.335, 5.03), dpi=200)
fig.subplots_adjust(left=166.5 / 2067, right=2046 / 2067, bottom=1 - 875.5 / 1006, top=1 - 75 / 1006, wspace=0.237)

draw_panel(ax1, "Drained", drained_points, drained_clumps, drained_edge_low, drained_edge_high, drained_rows,
           drained_mid_left, drained_mid_right, drained_core_left, drained_core_right)
streak = pd.DataFrame({"pred": streak_pred, "true": [streak_true] * len(streak_pred)})
sns.scatterplot(data=streak, x="pred", y="true", color=(0, 0, 0, 0.45), edgecolor=(1, 1, 1, 0.2),
                linewidth=0.5, s=36, zorder=3, ax=ax1)

draw_panel(ax2, "Undrained", undrained_points, undrained_clumps, undrained_edge_low, undrained_edge_high, undrained_rows,
           undrained_mid_left, undrained_mid_right, undrained_core_left, undrained_core_right)

fig.savefig("out.png", dpi=200)
